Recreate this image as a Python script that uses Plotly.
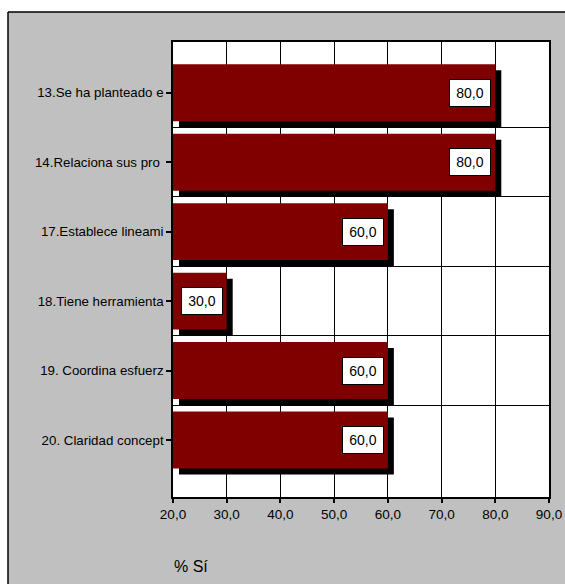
import plotly.graph_objects as go

# Chart data
categories = [
    "13.Se ha planteado e",
    "14.Relaciona sus pro\u00a0",
    "17.Establece lineami",
    "18.Tiene herramienta",
    "19. Coordina esfuerz",
    "20. Claridad concept",
]
values = [80.0, 80.0, 60.0, 30.0, 60.0, 60.0]
x_ticks = [20, 30, 40, 50, 60, 70, 80, 90]
x_tick_labels = ["20,0", "30,0", "40,0", "50,0", "60,0", "70,0", "80,0", "90,0"]
axis_title = "% Sí"

# Page and plot geometry (pixels)
W, H = 565, 584
L, R, T, B = 173, 16, 42, 87
plot_w = W - L - R
plot_h = H - T - B
x_range = [20, 90]
y_range = [5.82, -0.73]          # reversed: first category on top
px_per_x = plot_w / (x_range[1] - x_range[0])
px_per_y = plot_h / abs(y_range[0] - y_range[1])
shadow_px = 6
dx = shadow_px / px_per_x
dy = shadow_px / px_per_y
bar_w = 0.82

BAR = "#800000"
FRAME_BG = "#C0C0C0"
FONT = "Liberation Sans, Arial, sans-serif"


def px_to_paper_x(px):
    return (px - L) / plot_w


def px_to_paper_y(py):
    return (H - B - py) / plot_h


pos = list(range(len(categories)))

fig = go.Figure()

# black drop shadow behind each bar
fig.add_trace(go.Bar(
    orientation="h",
    y=[p + dy for p in pos],
    x=[v - x_range[0] for v in values],
    base=x_range[0] + dx,
    width=bar_w,
    marker=dict(color="black", line=dict(width=0)),
    hoverinfo="skip",
    showlegend=False,
))

# the bars themselves
fig.add_trace(go.Bar(
    orientation="h",
    y=pos,
    x=values,
    width=bar_w,
    marker=dict(color=BAR, line=dict(width=0)),
    showlegend=False,
))

# value labels in white boxes at the bar ends
for p, v in zip(pos, values):
    fig.add_annotation(
        x=v, y=p, xref="x", yref="y",
        text=f"{v:.1f}".replace(".", ","),
        showarrow=False,
        xanchor="right", yanchor="middle",
        xshift=-4,
        bgcolor="white", bordercolor="black", borderwidth=1, borderpad=4,
        width=32, height=18,
        font=dict(family=FONT, size=14, color="black"),
    )

# axis title under the value axis
fig.add_annotation(
    x=px_to_paper_x(172), y=px_to_paper_y(566), xref="paper", yref="paper",
    text=axis_title, showarrow=False, xanchor="left", yanchor="middle",
    font=dict(family=FONT, size=16, color="black"),
)

# white page strips outside the grey chart frame, and the frame border
frame_left, frame_top = 8, 12
x_page0, x_page1 = px_to_paper_x(-5), px_to_paper_x(W + 5)
y_page0, y_page1 = px_to_paper_y(H + 5), px_to_paper_y(-5)
fx0 = px_to_paper_x(frame_left)
fy1 = px_to_paper_y(frame_top)
fig.add_shape(type="rect", xref="paper", yref="paper",
              x0=x_page0, x1=fx0, y0=y_page0, y1=y_page1,
              fillcolor="white", line=dict(width=0), layer="below")
fig.add_shape(type="rect", xref="paper", yref="paper",
              x0=x_page0, x1=x_page1, y0=fy1, y1=y_page1,
              fillcolor="white", line=dict(width=0), layer="below")
fig.add_shape(type="line", xref="paper", yref="paper",
              x0=fx0, x1=x_page1, y0=fy1, y1=fy1,
              line=dict(color="black", width=1.5), layer="below")
fig.add_shape(type="line", xref="paper", yref="paper",
              x0=fx0, x1=fx0, y0=y_page0, y1=fy1,
              line=dict(color="black", width=1.5), layer="below")

fig.update_layout(
    width=W, height=H,
    margin=dict(l=L, r=R, t=T, b=B, pad=0, autoexpand=False),
    paper_bgcolor=FRAME_BG,
    plot_bgcolor="white",
    barmode="overlay",
    font=dict(family=FONT, color="black"),
    showlegend=False,
)

fig.update_xaxes(
    range=x_range,
    automargin=False,
    tickvals=x_ticks, ticktext=x_tick_labels,
    showgrid=True, gridcolor="black", gridwidth=1,
    showline=True, linecolor="black", linewidth=1.5, mirror=True,
    ticks="outside", ticklen=4, tickcolor="black", tickwidth=1.5,
    tickfont=dict(family=FONT, size=13.5, color="black"),
    zeroline=False,
)

fig.update_yaxes(
    range=y_range,
    automargin=False,
    tickvals=pos, ticktext=categories,
    showgrid=False,
    minor=dict(tickvals=[p + 0.5 for p in pos[:-1]], showgrid=True,
               gridcolor="black", gridwidth=1, ticks=""),
    showline=True, linecolor="black", linewidth=1.5, mirror=True,
    ticks="outside", ticklen=5, tickcolor="black", tickwidth=1.5,
    tickfont=dict(family=FONT, size=13.3, color="black"),
    zeroline=False,
)

fig.write_html("out.html")
